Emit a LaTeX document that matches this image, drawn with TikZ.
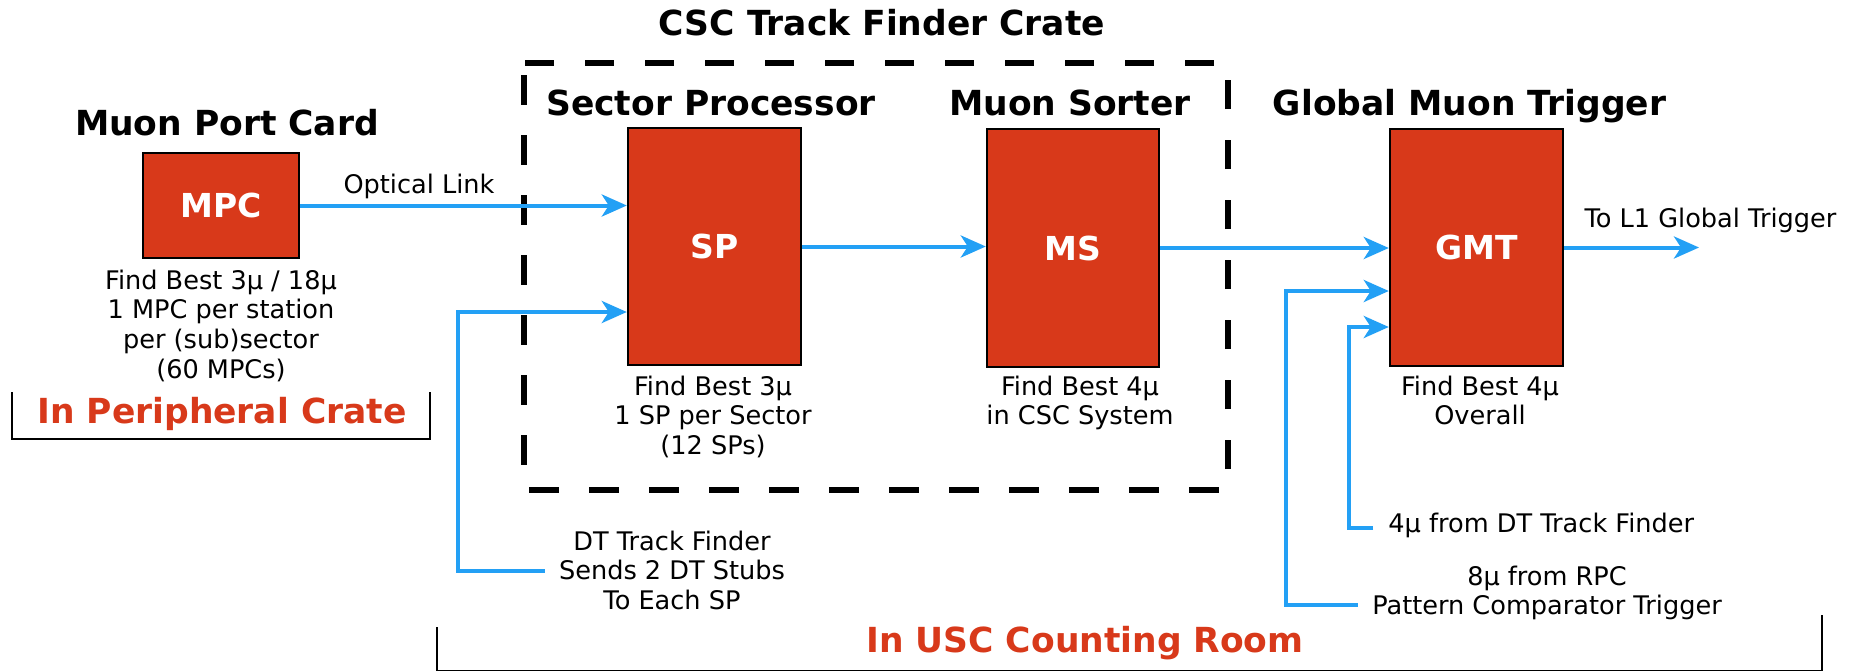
\documentclass[tikz,border=0pt]{standalone}
\usepackage{fontspec}
\setmainfont{DejaVu Sans}
\usetikzlibrary{arrows.meta}
\definecolor{boxred}{RGB}{216,57,26}
\definecolor{linkblue}{RGB}{35,160,245}
\tikzset{
  unit/.style={draw=black, line width=1.2pt, fill=boxred, inner sep=0pt, text=white,
    font=\fontsize{16.5pt}{20pt}\selectfont\bfseries},
  heading/.style={font=\fontsize{17.25pt}{20pt}\selectfont\bfseries, inner sep=0pt, anchor=base},
  place/.style={font=\fontsize{17.25pt}{20pt}\selectfont\bfseries, text=boxred, inner sep=0pt, anchor=base},
  caption/.style={font=\fontsize{12.8pt}{14.8pt}\selectfont, inner sep=0pt, align=center, anchor=north},
  label/.style={font=\fontsize{12.8pt}{14.8pt}\selectfont, inner sep=0pt, anchor=base},
  link/.style={draw=linkblue, line width=2pt, -{Stealth[length=12.5pt,width=11pt,inset=3.5pt]}},
  crate/.style={draw=black, line width=3pt, dash pattern=on 14.75pt off 15.25pt, dash phase=24pt},
  bracket/.style={draw=black, line width=1.1pt},
}
\begin{document}
\begin{tikzpicture}[x=0.5pt,y=-0.5pt]
\useasboundingbox (0,0) rectangle (1857,670);
\fill[white] (0,0) rectangle (1857,670);

% crate outline
\draw[crate] (524,63) -- (524,490) -- (1228,490) -- (1228,63) -- cycle;

% units
\node[unit, minimum width=78pt, minimum height=52.5pt] (mpc) at (221,205.5) {MPC};
\node[unit, minimum width=86.5pt, minimum height=118.5pt] (sp) at (714.5,246.5) {SP};
\node[unit, minimum width=86pt, minimum height=119pt] (ms) at (1073,248) {MS};
\node[unit, minimum width=86.5pt, minimum height=118.5pt] (gmt) at (1476.5,247.5) {GMT};

% headings
\node[heading] (tmpc) at (227,135) {Muon Port Card};
\node[heading] (tcsc) at (882,35) {CSC Track Finder Crate};
\node[heading] (tsp) at (711,115) {Sector Processor};
\node[heading] (tms) at (1070,115) {Muon Sorter};
\node[heading] (tgmt) at (1469.5,115) {Global Muon Trigger};

% captions
\node[caption] (cmpc) at (221,269.5) {Find Best 3μ / 18μ\\1 MPC per station\\per (sub)sector\\(60 MPCs)};
\node[caption] (csp) at (713,375.5) {Find Best 3μ\\1 SP per Sector\\(12 SPs)};
\node[caption] (cms) at (1080,375.5) {Find Best 4μ\\in CSC System};
\node[caption] (cgmt) at (1480,375.5) {Find Best 4μ\\Overall};
\node[caption] (cdt) at (672,530.5) {DT Track Finder\\Sends 2 DT Stubs\\To Each SP};
\node[caption] (crpc) at (1547,565.5) {8μ from RPC\\Pattern Comparator Trigger};
\node[label, anchor=base west] (cdt4) at (1388,532) {4μ from DT Track Finder};
\node[label] (tlink) at (419,193) {Optical Link};
\node[label] (tl1) at (1710.5,227) {To L1 Global Trigger};

% location labels and brackets
\node[place] (tper) at (222,423) {In Peripheral Crate};
\node[place] (tusc) at (1085,652) {In USC Counting Room};
\draw[bracket] (12,392) -- (12,439) -- (430,439) -- (430,392);
\draw[bracket] (437,627) -- (437,671.5) -- (1822,671.5) -- (1822,615);

% connectors
\coordinate (dtbend) at (458,571);
\coordinate (rpcbend) at (1286,605);
\coordinate (dtfbend) at (1349,528);
\coordinate (l1) at (1699,248);
\path (cdt.west |- dtbend) ++(-7pt,0) coordinate (dtout);
\path (crpc.west |- rpcbend) ++(-7pt,0) coordinate (rpcout);
\path (cdt4.west |- dtfbend) ++(-7.5pt,0) coordinate (dtfout);

\draw[link] (mpc.east) -- (mpc.east -| sp.west);
\draw[link] (dtout) -- (dtbend) |- (sp.west |- 0,312);
\draw[link] (sp.east) -- (sp.east -| ms.west);
\draw[link] (ms.east) -- (ms.east -| gmt.west);
\draw[link] (rpcout) -- (rpcbend) |- (gmt.west |- 0,291);
\draw[link] (dtfout) -- (dtfbend) |- (gmt.west |- 0,327);
\draw[link] (gmt.east) -- (gmt.east -| l1);
\end{tikzpicture}
\end{document}
